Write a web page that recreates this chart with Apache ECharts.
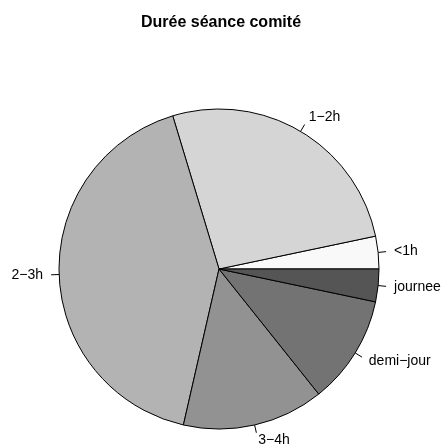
<!DOCTYPE html>
<html>
<head>
<meta charset="utf-8">
<script src="https://cdn.jsdelivr.net/npm/echarts@6/dist/echarts.min.js"></script>
<style>html,body{margin:0;padding:0;background:#fff;}#chart{width:442px;height:448px;}</style>
</head>
<body>
<div id="chart"></div>
<script>
const titleText = "Durée séance comité";
const categories = ["<1h", "1−2h", "2−3h", "3−4h", "demi−jour", "journee"];
const values = [3, 24, 38, 13, 10, 3];
const colors = ["#f9f9f9", "#d5d5d5", "#b3b3b3", "#929292", "#737373", "#555555"];

const chart = echarts.init(document.getElementById('chart'), null, {renderer: 'canvas'});
const data = categories.map((c, i) => ({name: c, value: values[i], itemStyle: {color: colors[i]}}));
chart.setOption({
  animation: false,
  backgroundColor: '#ffffff',
  title: {
    text: titleText, left: 'center', top: 10,
    textStyle: {fontFamily: 'Liberation Sans', fontWeight: 'bold', fontSize: 16, color: '#000'}
  },
  series: [{
    type: 'pie',
    center: [219, 269],
    radius: [0, 160],
    startAngle: 0,
    clockwise: false,
    avoidLabelOverlap: false,
    itemStyle: {borderColor: '#000', borderWidth: 1},
    emphasis: {disabled: true},
    label: {
      show: true, position: 'outside', color: '#000',
      fontFamily: 'Liberation Sans', fontSize: 14,
      distanceToLabelLine: 0
    },
    labelLine: {show: true, length: 8, length2: 0, lineStyle: {color: '#000', width: 1}},
    labelLayout: function (p) {
      const pts = p.labelLinePoints;
      if (!pts) return {};
      const x0 = pts[0][0], y0 = pts[0][1], x1 = pts[1][0], y1 = pts[1][1];
      return {
        x: x1 + (x1 - x0),
        y: y1 + (y1 - y0),
        align: (x1 >= x0) ? 'left' : 'right',
        verticalAlign: 'middle',
        labelLinePoints: [[x0, y0], [x1, y1], [x1, y1]]
      };
    },
    data: data
  }]
});
</script>
</body>
</html>
